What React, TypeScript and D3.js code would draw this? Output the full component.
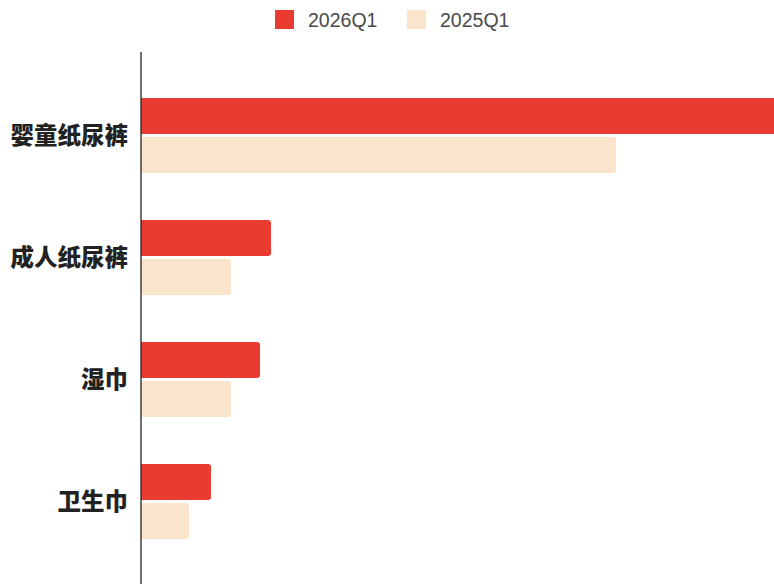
import React from "react";
import * as d3 from "d3";

const categories = ["婴童纸尿裤", "成人纸尿裤", "湿巾", "卫生巾"];
const seriesNames = ["2026Q1", "2025Q1"];
const values2026 = [140, 26, 23.8, 14];
const values2025 = [95, 18, 18, 9.6];
const seriesColors = ["#ea3b30", "#fbe4cc"];

const W = 774;
const H = 584;

function barPath(x0: number, x1: number, y: number, h: number, r: number) {
  const w = x1 - x0;
  const rr = Math.min(r, w / 2, h / 2);
  return `M${x0},${y}H${x1 - rr}Q${x1},${y} ${x1},${y + rr}V${y + h - rr}Q${x1},${y + h} ${x1 - rr},${y + h}H${x0}Z`;
}

export default function App() {
  const x = d3.scaleLinear().domain([0, 100]).range([141, 641]);
  const y0 = d3.scaleBand<string>().domain(categories).range([74.5, 562.5]).padding(0);
  const groupH = 75;
  const y1 = d3
    .scaleBand<string>()
    .domain(seriesNames)
    .range([-groupH / 2, groupH / 2])
    .paddingInner(0.08);
  const series = [values2026, values2025];

  return (
    <svg
      width={W}
      height={H}
      style={{ position: "absolute", left: 0, top: 0, background: "#fff" }}
    >
      <defs>
        <clipPath id="plot">
          <rect x={141} y={0} width={W - 141} height={H} />
        </clipPath>
      </defs>
      {/* legend */}
      {seriesNames.map((s, i) => {
        const lx = [275, 407][i];
        return (
          <g key={s}>
            <rect x={lx} y={10} width={19} height={19} fill={seriesColors[i]} />
            <text
              x={lx + 33}
              y={20}
              dy="0.36em"
              fontSize={19.5}
              fill="#4a4a4a"
              fontFamily="Liberation Sans, Arial, sans-serif"
            >
              {s}
            </text>
          </g>
        );
      })}
      {/* bars */}
      <g clipPath="url(#plot)">
        {categories.map((c) => {
          const cy = (y0(c) as number) + y0.bandwidth() / 2;
          return seriesNames.map((s, si) => {
            const v = series[si][categories.indexOf(c)];
            const by = cy + (y1(s) as number);
            return (
              <path
                key={c + s}
                d={barPath(x(0), x(v), by, y1.bandwidth(), 3)}
                fill={seriesColors[si]}
              />
            );
          });
        })}
      </g>
      {/* axis line */}
      <line x1={141} x2={141} y1={52} y2={H} stroke="#222" strokeWidth={1.3} />
      {/* category labels */}
      {categories.map((c) => {
        const cy = (y0(c) as number) + y0.bandwidth() / 2;
        return (
          <text
            key={c}
            x={128}
            y={cy}
            dy="0.36em"
            textAnchor="end"
            fontSize={23.5}
            fontWeight="900"
            fill="#222"
            fontFamily="Noto Sans CJK SC, sans-serif"
          >
            {c}
          </text>
        );
      })}
    </svg>
  );
}
